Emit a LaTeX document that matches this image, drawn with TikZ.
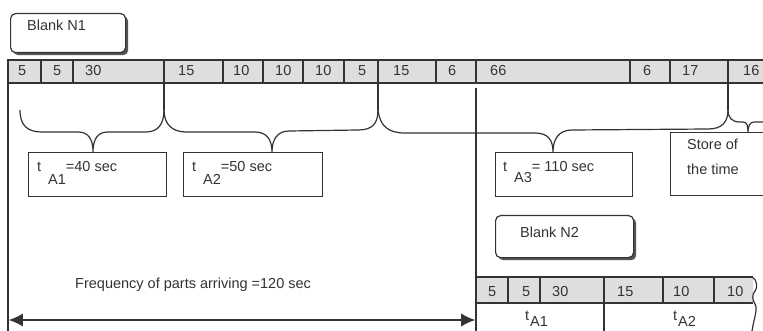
\documentclass[tikz,border=0pt]{standalone}
\usepackage{fontspec}
\setmainfont{Liberation Sans}
\usetikzlibrary{arrows.meta}
\definecolor{ink}{HTML}{333333}
\definecolor{barfill}{HTML}{DEDEDE}
\definecolor{shade}{HTML}{555555}
\tikzset{
  lbl/.style={inner sep=0pt, anchor=base west, text=ink, font=\fontsize{14.5}{17}\selectfont},
  num/.style={lbl},
  frame/.style={draw=ink, line width=1.5pt},
  thin/.style={draw=ink, line width=1.2pt},
  brace/.style={draw=ink, line width=1.2pt},
  tbox/.style={draw=ink, line width=1.2pt, fill=white, anchor=north west, inner sep=0pt},
  blank/.style={draw=ink, line width=1.2pt, fill=white, rounded corners=5pt, anchor=north west, inner sep=0pt},
  blankshadow/.style={fill=shade, rounded corners=5pt, anchor=north west, inner sep=0pt, draw=none},
}
\begin{document}
\begin{tikzpicture}[x=1pt,y=-1pt]
\clip (0,0) rectangle (763,331);
\fill[white] (0,0) rectangle (763,331);

% Blank N1
\node[blankshadow, minimum width=115pt, minimum height=39pt] (n1s) at (13,16) {};
\node[blank, minimum width=115pt, minimum height=39pt] (n1) at (10,13) {};
\node[lbl] (n1t) at (27,31) {Blank N1};

% upper bar
\fill[barfill] (8,60) rectangle (770,83);
\draw[frame] (770,60) -- (8,60) -- (8,83) -- (770,83);
\foreach \a/\b/\t [count=\i] in {8/18/5, 41/53/5, 73/85/30, 164/178/15, 223/233/10, 263/275/10, 303/315/10, 344/358/5, 378/393/15, 436/448/6, 476/490/66, 630/643/6, 670/682/17, 728/743/16}{
  \draw[frame] (\a,60) -- (\a,83);
  \node[num] (u\i) at (\b,76) {\t};
}

% vertical lines below bar
\coordinate (v0a) at (8,83);   \coordinate (v0b) at (8,331);
\coordinate (v1a) at (164,83); \coordinate (v1b) at (164,110);
\coordinate (v2a) at (378,83); \coordinate (v2b) at (378,110);
\coordinate (v3a) at (476,88); \coordinate (v3b) at (476,331);
\coordinate (v4a) at (728,83); \coordinate (v4b) at (728,110);
\draw[frame] (v0a) -- (v0b);
\draw[thin] (v1a) -- (v1b);
\draw[thin] (v2a) -- (v2b);
\draw[thin] (v3a) -- (v3b);
\draw[thin] (v4a) -- (v4b);

% braces
\coordinate (b1l) at (20,110); \coordinate (b1t) at (93,152);
\draw[brace] (b1l) .. controls (20,126) and (28,132) .. (42,132) -- (78,132)
  .. controls (89,132) and (93,140) .. (b1t)
  .. controls (93,140) and (97,132) .. (108,132) -- (146,132)
  .. controls (158,132) and (164,124) .. (v1b);
\coordinate (b2t) at (272,152);
\draw[brace] (v1b) .. controls (164,124) and (172,132) .. (186,132) -- (255,132)
  .. controls (267,132) and (272,140) .. (b2t)
  .. controls (272,140) and (277,131) .. (289,131) -- (358,130)
  .. controls (372,130) and (378,124) .. (v2b);
\coordinate (b3t) at (553,152);
\draw[brace] (v2b) .. controls (380,126) and (388,133) .. (405,133) -- (535,133)
  .. controls (548,133) and (553,140) .. (b3t)
  .. controls (553,140) and (558,130) .. (572,130) -- (708,129)
  .. controls (722,129) and (728,122) .. (v4b);
\coordinate (b4t) at (748,132);
\draw[brace] (v4b) .. controls (728,118) and (732,122) .. (740,122) -- (743,122)
  .. controls (747,122) and (748,126) .. (b4t)
  .. controls (748,126) and (750,122) .. (754,122) -- (770,122);

% t boxes
\node[tbox, minimum width=138pt, minimum height=44pt] (tA1) at (28,152) {};
\node[lbl] (tA1t) at (37,172) {t\hspace{7pt}\raisebox{-13pt}{A1}=40 sec};
\node[tbox, minimum width=139pt, minimum height=44pt] (tA2) at (183,152) {};
\node[lbl] (tA2t) at (192,172) {t\hspace{7pt}\raisebox{-13pt}{A2}=50 sec};
\node[tbox, minimum width=137pt, minimum height=44pt] (tA3) at (495,152) {};
\node[lbl] (tA3t) at (503,172) {t\hspace{7pt}\raisebox{-11pt}{A3}= 110 sec};

% store box
\node[tbox, minimum width=110pt, minimum height=63pt] (store) at (670,132) {};
\node[lbl] (st1) at (687,150) {Store of};
\node[lbl] (st2) at (687,175) {the time};

% Blank N2
\node[blankshadow, minimum width=138pt, minimum height=42pt] (n2s) at (498,218) {};
\node[blank, minimum width=138pt, minimum height=42pt] (n2) at (495,215) {};
\node[lbl] (n2t) at (520,238) {Blank N2};

% frequency
\node[lbl] (freq) at (75,288) {Frequency of parts arriving =120 sec};
\draw[thin, {Latex[length=14pt,width=13pt]}-{Latex[length=14pt,width=13pt]}] (8.8,320) -- (475.2,320);

% lower bar
\fill[barfill] (476,277) rectangle (753,303);
\draw[frame] (753,277) -- (476,277);
\draw[frame] (476,303) -- (753,303);
\foreach \a/\b/\t [count=\i] in {476/488/5, 508/522/5, 540/552/30, 604/617/15, 663/673/10, 714/727/10}{
  \draw[frame] (\a,277) -- (\a,303);
  \node[num] (l\i) at (\b,296) {\t};
}
\coordinate (w0) at (752,277);
\coordinate (w1) at (752,331);
\draw[thin] (w0) .. controls (757,279) and (758,288) .. (755,291)
  .. controls (752,294) and (752,300) .. (755,304)
  .. controls (758,309) and (754,318) .. (w1);
\coordinate (d1a) at (604,303); \coordinate (d1b) at (604,331);
\draw[thin] (d1a) -- (d1b);
\node[lbl] (ta1) at (525,320) {t\hspace{1pt}\raisebox{-6pt}{A1}};
\node[lbl] (ta2) at (673,320) {t\hspace{1pt}\raisebox{-6pt}{A2}};
\end{tikzpicture}
\end{document}
